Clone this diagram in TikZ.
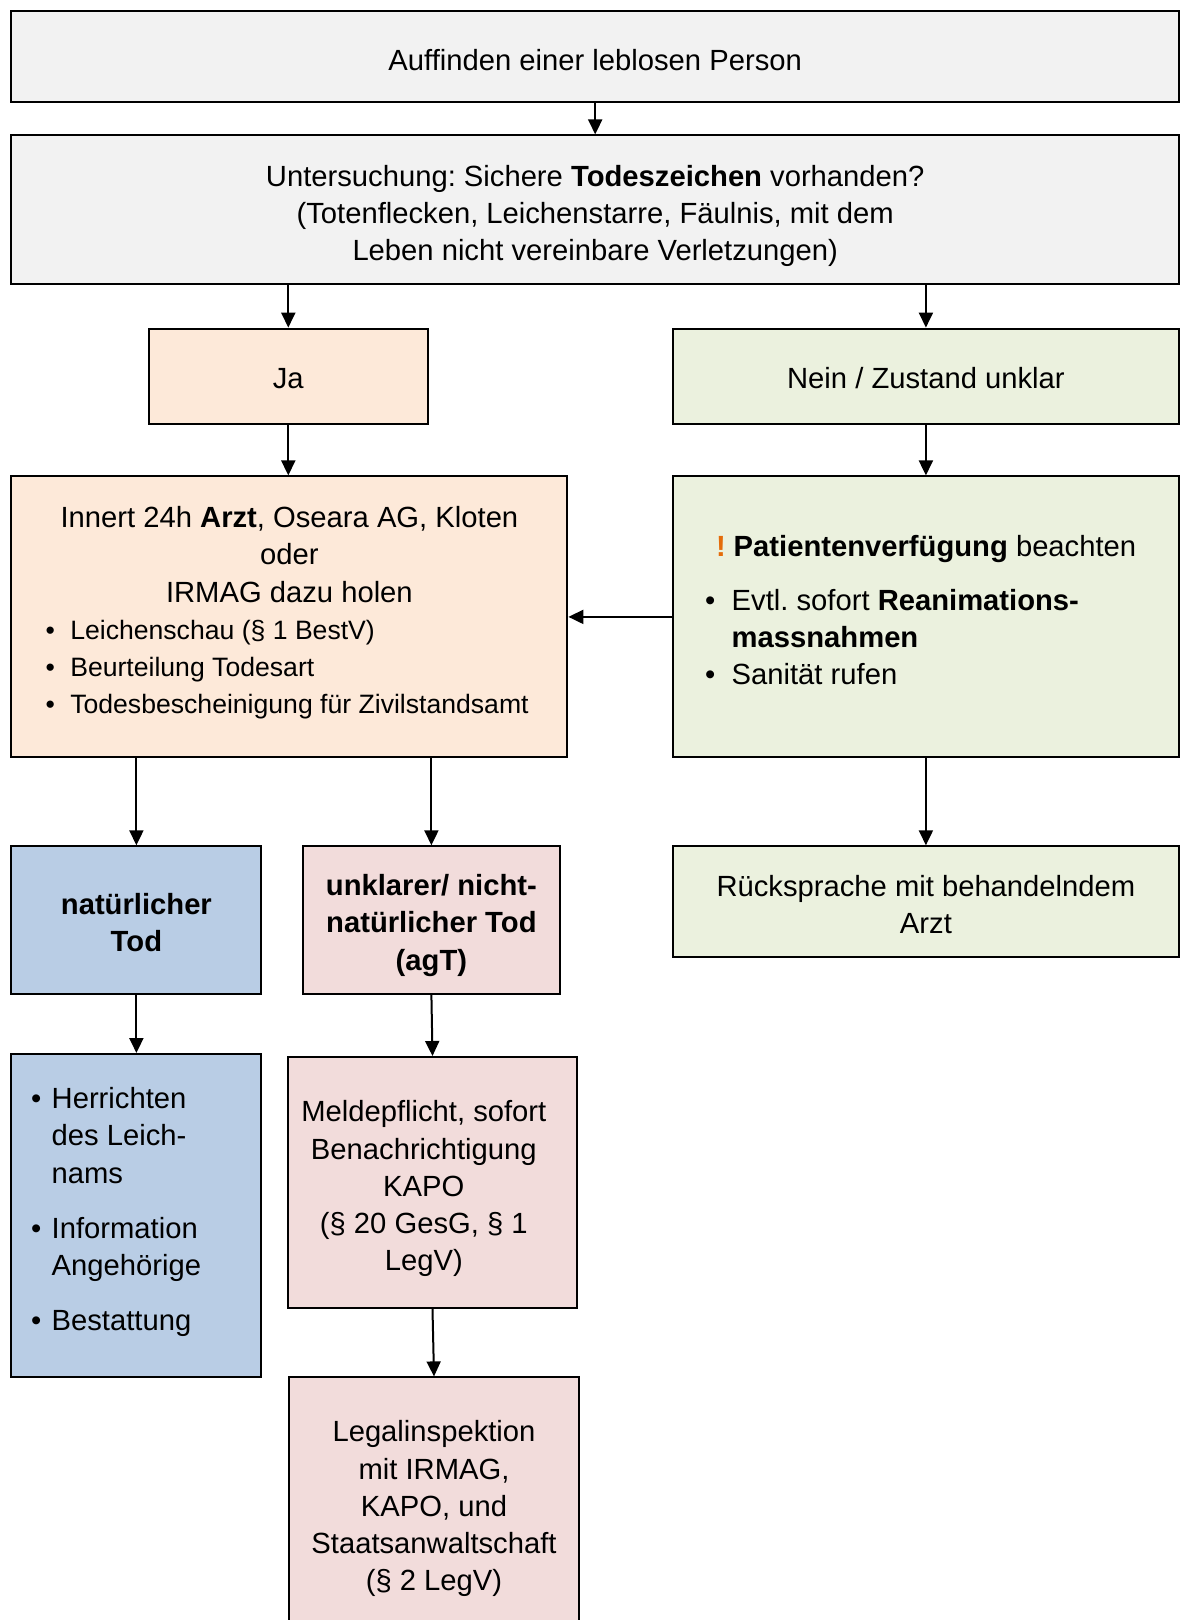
\documentclass[tikz,border=0pt]{standalone}
\usepackage{fontspec}
\setmainfont{Liberation Sans}
\usetikzlibrary{arrows.meta}
\frenchspacing

\definecolor{greybox}{HTML}{F2F2F2}
\definecolor{peach}{HTML}{FDE9D9}
\definecolor{sage}{HTML}{EBF1DE}
\definecolor{skyblue}{HTML}{B9CDE5}
\definecolor{rose}{HTML}{F2DCDB}
\definecolor{warnorange}{HTML}{E46C0A}

\newcommand{\punkt}[2]{\hspace*{#1}\makebox[#2][l]{\textbullet}}
\newcommand{\mitte}[3]{\parbox{#1}{\centering\vspace*{#2}#3}}

\begin{document}
\begin{tikzpicture}[x = 0.5pt, y = -0.5pt, >= {Triangle[length=7.5pt,width=7pt]},
    box/.style = {draw, line width = 1pt, inner sep = 0pt,
      font = \fontsize{14.6pt}{18.6pt}\selectfont},
    link/.style = {->, line width = 1pt}]
          \useasboundingbox (0, 0) rectangle (1181, 1620);
          \clip (0, 0) rectangle (1181, 1620);
          \node[box, fill = greybox, minimum width = 583.8pt, minimum height = 45.5pt] (find) at (595.2, 56.8)
            {\mitte{583.8pt}{3.1pt}{Auffinden einer leblosen Person}};
          \node[box, fill = greybox, minimum width = 583.8pt, minimum height = 74.4pt] (exam) at (595.2, 209.8)
            {\mitte{583.8pt}{6.2pt}{Untersuchung: Sichere \textbf{Todeszeichen} vorhanden?\\(Totenflecken, Leichenstarre, Fäulnis, mit dem\\Leben nicht vereinbare Verletzungen)}};
          \node[box, fill = peach, minimum width = 139.5pt, minimum height = 47.6pt] (ja) at (288.3, 376.2)
            {\mitte{139.5pt}{2pt}{Ja}};
          \node[box, fill = sage, minimum width = 253.2pt, minimum height = 47.6pt] (nein) at (925.9, 376.2)
            {\mitte{253.2pt}{2pt}{Nein / Zustand unklar}};
          \node[box, fill = peach, minimum width = 278pt, minimum height = 140.5pt] (arzt) at (289.4, 616.9)
            {\parbox{278pt}{\vspace*{-4.1pt}\centering Innert 24h \textbf{Arzt}, Oseara AG, Kloten\\oder\\IRMAG dazu holen\par
              \raggedright\fontsize{13.3pt}{18.6pt}\selectfont
              \punkt{17.1pt}{12.35pt}Leichenschau (§ 1 BestV)\\
              \punkt{17.1pt}{12.35pt}Beurteilung Todesart\\
              \punkt{17.1pt}{12.35pt}Todesbescheinigung für Zivilstandsamt}};
          \node[box, fill = sage, minimum width = 253.2pt, minimum height = 140.5pt] (reani) at (925.9, 616.9)
            {\parbox{253.2pt}{\vspace*{-6.7pt}\raggedright
              \hspace*{21.65pt}{\color{warnorange}\textbf{!}}\hspace{4pt}\textbf{Patientenverfügung} beachten\par
              \vspace{8.3pt}
              \punkt{16.2pt}{13.3pt}Evtl. sofort \textbf{Reanimations-}\\
              \hspace*{29.5pt}\textbf{massnahmen}\\
              \punkt{16.2pt}{13.3pt}Sanität rufen}};
          \node[box, fill = skyblue, minimum width = 125pt, minimum height = 73.9pt] (nat) at (136.4, 920.2)
            {\mitte{125pt}{2pt}{\textbf{natürlicher}\\\textbf{Tod}}};
          \node[box, fill = rose, minimum width = 128.6pt, minimum height = 73.9pt] (agt) at (431.4, 920.2)
            {\mitte{128.6pt}{5.2pt}{\textbf{unklarer/ nicht-}\\\textbf{natürlicher Tod}\\\textbf{(agT)}}};
          \node[box, fill = sage, minimum width = 253.2pt, minimum height = 55.3pt] (rueck) at (925.9, 901.6)
            {\mitte{253.2pt}{2.6pt}{Rücksprache mit behandelndem\\Arzt}};
          \node[box, fill = skyblue, minimum width = 125pt, minimum height = 161.7pt] (pflege) at (136.4, 1215.7)
            {\parbox{125pt}{\vspace*{-3.6pt}\raggedright
              \punkt{9.85pt}{10.3pt}Herrichten\\
              \hspace*{20.15pt}des Leich-\\
              \hspace*{20.15pt}nams\par\vspace{9pt}
              \punkt{9.85pt}{10.3pt}Information\\
              \hspace*{20.15pt}Angehörige\par\vspace{9pt}
              \punkt{9.85pt}{10.3pt}Bestattung}};
          \node[box, fill = rose, minimum width = 144.2pt, minimum height = 125.6pt] (melde) at (432.5, 1182.6)
            {\parbox{144.2pt}{\vspace*{6.2pt}\centering\rightskip = 8.7pt plus 1fil
              Meldepflicht, sofort\\Benachrichtigung\\KAPO\\(§ 20 GesG, § 1\\LegV)}};
          \node[box, fill = rose, minimum width = 144.7pt, minimum height = 128.3pt] (legal) at (434, 1505.7)
            {\mitte{144.7pt}{3.1pt}{Legalinspektion\\mit IRMAG,\\KAPO, und\\Staatsanwaltschaft\\(§ 2 LegV)}};
          \draw[link] (find) -- (exam);
          \draw[link] (ja.north |- exam.south) -- (ja.north);
          \draw[link] (nein.north |- exam.south) -- (nein.north);
          \draw[link] (ja.south) -- (ja.south |- arzt.north);
          \draw[link] (nein) -- (reani);
          \draw[link] (reani.west) -- (arzt.east);
          \draw[link] (nat.north |- arzt.south) -- (nat.north);
          \draw[link] (agt.north |- arzt.south) -- (agt.north);
          \draw[link] (reani) -- (rueck);
          \draw[link] (nat) -- (pflege);
          \draw[link] (agt.south) -- (melde.north);
          \draw[link] (melde.south) -- (legal.north);
        \end{tikzpicture}
\end{document}
